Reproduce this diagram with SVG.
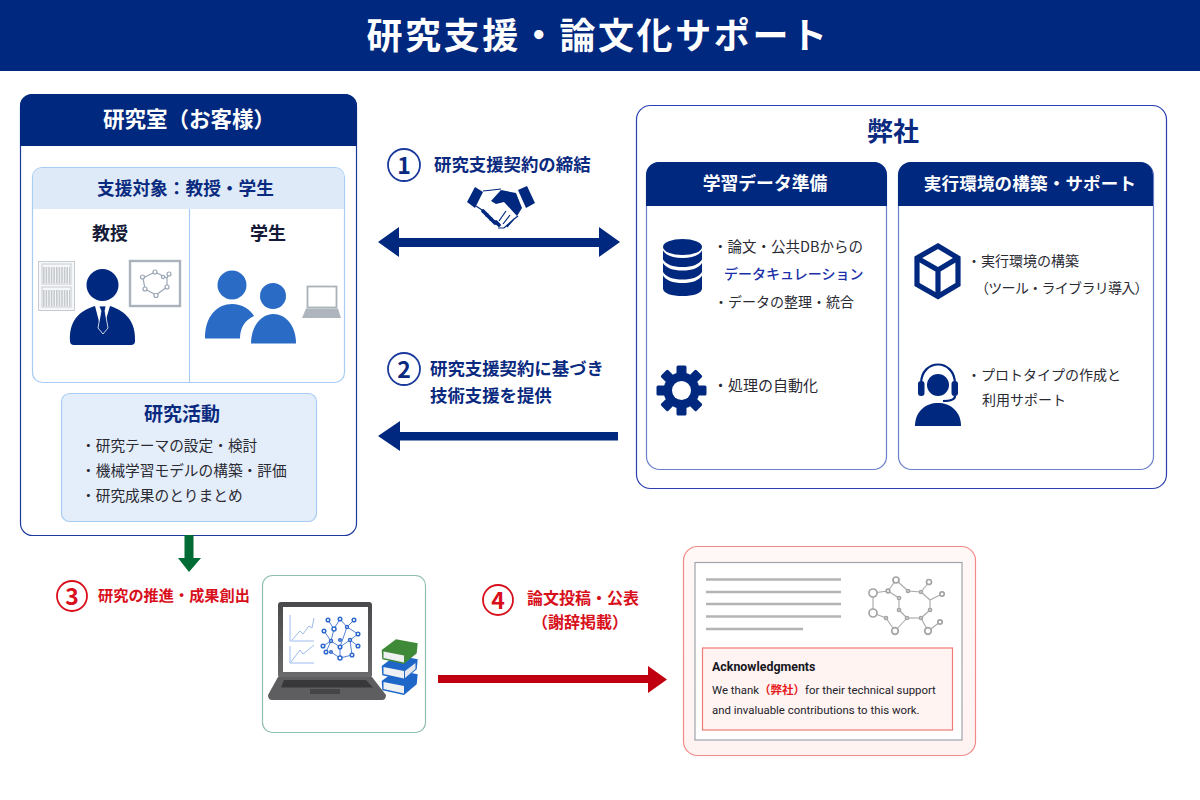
<svg xmlns="http://www.w3.org/2000/svg" width="1200" height="800" viewBox="0 0 1200 800">
<style>
text{font-family:"Noto Sans CJK JP","Noto Sans",sans-serif;}
.navy{fill:#00287e}.white{fill:#fff}
.b{font-weight:700}.m{text-anchor:middle}
.body{font-size:14px;fill:#2a2a33}
.act{font-size:14.700px;fill:#2a2a33}
.lb{font-size:17.400px;font-weight:700;fill:#0a2a80}
.red{font-weight:700;fill:#d8101c}
.num{font-size:23px;font-weight:700;text-anchor:middle}
.en{font-family:Roboto,"Noto Sans CJK JP",sans-serif;font-size:11.400px;fill:#22222a}
.mol line{stroke:#a8a8a8;stroke-width:1.100}
.mol circle{fill:#fff;stroke:#a4a4a4;stroke-width:1.700}
.net line{stroke:#3f74d0;stroke-width:.9}
.net circle{fill:#fff;stroke:#2f68cc;stroke-width:1.500}
.ring line{stroke:#9aa6b4;stroke-width:1.200}
.ring circle{fill:#fff;stroke:#9aa6b4;stroke-width:1.200}
</style>
<defs>
<linearGradient id="pink" x1="0" y1="0" x2="0" y2="1"><stop offset="0" stop-color="#fff8f7"/><stop offset="1" stop-color="#fff3f2"/></linearGradient>
<linearGradient id="frame" x1="0" y1="0" x2="0" y2="1"><stop offset="0" stop-color="#4a4a4c"/><stop offset="1" stop-color="#6a6a6c"/></linearGradient>
</defs>
<rect width="1200" height="800" fill="#fff"/>
<g id="title"><rect width="1200" height="71" class="navy"/><text x="598" y="49" class="white b m" font-size="36" letter-spacing="2.600">研究支援・論文化サポート</text></g>

<g id="lab">
<rect x="20.500" y="94.500" width="336" height="441" rx="12" fill="#fff" stroke="#1c3a9c" stroke-width="1.200"/>
<path d="M20 146V106a12 12 0 0 1 12-12H345a12 12 0 0 1 12 12V146Z" class="navy"/>
<text x="189" y="127" class="white b m" font-size="21.500">研究室（お客様）</text>
</g>

<g id="target">
<rect x="32.500" y="167.500" width="312" height="215" rx="10" fill="#fff" stroke="#a8cdf5" stroke-width="1.200"/>
<path d="M33 209V177a9 9 0 0 1 9-9H335a9 9 0 0 1 9 9V209Z" fill="#dfeaf8"/>
<line x1="189.500" y1="209" x2="189.500" y2="382" stroke="#a8cdf5" stroke-width="1.200"/>
<text x="185.500" y="195" class="m b" font-size="17.700" fill="#0a2a80">支援対象：教授・学生</text>
<text x="110" y="240" class="m b" font-size="18" fill="#141a38">教授</text>
<text x="268" y="240" class="m b" font-size="18" fill="#141a38">学生</text>
</g>

<g id="professor">
<g fill="#f6f7f8" stroke="#c8ccd0"><rect x="38.500" y="261.500" width="36" height="49"/><rect x="42" y="264" width="29" height="20"/><rect x="42" y="287" width="29" height="20"/></g>
<g stroke="#c6cacf" stroke-dasharray="1.600 1"><line x1="43" y1="275" x2="70" y2="275" stroke-width="16"/><line x1="43" y1="298" x2="70" y2="298" stroke-width="16"/></g>
<rect x="130" y="261" width="50" height="45" fill="#fff" stroke="#aab3bb" stroke-width="2.400"/>
<g class="ring"><line x1="143" y1="278" x2="155" y2="272"/><line x1="155" y1="272" x2="167" y2="278"/><line x1="167" y1="278" x2="167" y2="287"/><line x1="167" y1="287" x2="156" y2="295"/><line x1="156" y1="295" x2="145" y2="289"/><line x1="145" y1="289" x2="143" y2="278"/><line x1="167" y1="278" x2="169" y2="274"/>
<circle cx="142.500" cy="277" r="2"/><circle cx="155" cy="272" r="2"/><circle cx="163" cy="277" r="1.600"/><circle cx="169" cy="274" r="2"/><circle cx="167" cy="287" r="2"/><circle cx="156" cy="295.500" r="2"/><circle cx="145" cy="289" r="2"/></g>
<circle cx="102.500" cy="285" r="16" class="navy"/>
<path d="M70 341C69 322 78 311 95 306L102 333L110 306C126 311 136 322 135 341Q135 345 131 345H74Q70 345 70 341Z" class="navy"/>
<path d="M99 306h7l-1 5l3 17l-5 6l-5-6l3-17Z" class="navy" stroke="#fff" stroke-width=".8"/>
</g>

<g id="students">
<circle cx="232" cy="285" r="14.500" fill="#2a6bc6"/>
<path d="M205 338.500C205 315 218 304 232 304C242 304 250 309 254 316C245 320 240 328 240 338.500Z" fill="#2a6bc6"/>
<circle cx="273" cy="296" r="13" fill="#2a6bc6"/>
<path d="M251 343.500C251 325 262 314 273.500 314C285 314 296 325 296 343.500Z" fill="#2a6bc6"/>
<rect x="307.500" y="286.500" width="29" height="21" fill="#fff" stroke="#aab2ba" stroke-width="1.800"/>
<path d="M306 308.500H338L341 318H302Z" fill="#aeb5bc"/>
</g>

<g id="activity">
<rect x="61.500" y="393.500" width="255" height="128" rx="8" fill="#e4eefa" stroke="#a8cdf5" stroke-width="1.200"/>
<text x="182" y="421" class="m b" font-size="19" fill="#0a2a80">研究活動</text>
<text x="81" y="451" class="act">・研究テーマの設定・検討</text>
<text x="81" y="476" class="act">・機械学習モデルの構築・評価</text>
<text x="81" y="501" class="act">・研究成果のとりまとめ</text>
</g>

<g id="company">
<rect x="636.500" y="105.500" width="530" height="383" rx="14" fill="#fff" stroke="#2a3fb0" stroke-width="1.200"/>
<text x="893" y="141" class="m b" font-size="26" fill="#0a2a80">弊社</text>
</g>

<g id="data-prep">
<rect x="646.500" y="162.500" width="240" height="307" rx="13" fill="#fff" stroke="#6a80cc" stroke-width="1.200"/>
<path d="M646 206V175a13 13 0 0 1 13-13H874a13 13 0 0 1 13 13V206Z" class="navy"/>
<text x="765" y="190" class="white b m" font-size="17.800">学習データ準備</text>
<g class="navy"><ellipse cx="682.500" cy="247" rx="19.500" ry="8"/><path d="M663 250.500c3 5 10 7.500 19.500 7.500s16.500-2.500 19.500-7.500v9c-3 5-10 7.500-19.500 7.500s-16.500-2.500-19.500-7.500Z"/><path d="M663 263c3 5 10 7.500 19.500 7.500s16.500-2.500 19.500-7.500v9c-3 5-10 7.500-19.500 7.500s-16.500-2.500-19.500-7.500Z"/><path d="M663 275.500c3 5 10 7.500 19.500 7.500s16.500-2.500 19.500-7.500v13c0 5-9 7.500-19.500 7.500s-19.500-2.500-19.500-7.500Z"/></g>
<text x="713" y="252" class="body" style="font-size:14.500px">・論文・公共DBからの</text>
<text x="724" y="279" font-size="14" font-weight="500" fill="#1a2fa8">データキュレーション</text>
<text x="714" y="307" class="body">・データの整理・統合</text>
<g transform="translate(681.500 390.500)" class="navy"><circle r="18"/>
<rect x="-5" y="-25" width="10" height="12" rx="1.500"/><rect x="-5" y="-25" width="10" height="12" rx="1.500" transform="rotate(45)"/><rect x="-5" y="-25" width="10" height="12" rx="1.500" transform="rotate(90)"/><rect x="-5" y="-25" width="10" height="12" rx="1.500" transform="rotate(135)"/><rect x="-5" y="-25" width="10" height="12" rx="1.500" transform="rotate(180)"/><rect x="-5" y="-25" width="10" height="12" rx="1.500" transform="rotate(225)"/><rect x="-5" y="-25" width="10" height="12" rx="1.500" transform="rotate(270)"/><rect x="-5" y="-25" width="10" height="12" rx="1.500" transform="rotate(315)"/>
<circle r="9.500" fill="#fff"/></g>
<text x="713" y="391" class="body" style="font-size:15px">・処理の自動化</text>
</g>

<g id="runtime">
<rect x="898.500" y="162.500" width="255" height="307" rx="13" fill="#fff" stroke="#6a80cc" stroke-width="1.200"/>
<path d="M898 206V175a13 13 0 0 1 13-13H1140a13 13 0 0 1 13 13V206Z" class="navy"/>
<text x="1030" y="190" class="white b m" font-size="17.500" letter-spacing=".2">実行環境の構築・サポート</text>
<g fill="none" stroke="#00287e" stroke-width="5.200"><path d="M938 246L958 258V284.500L938 296.500L917 284.500V258Z"/><path d="M917 258L938 270L958 258M938 270V296.500"/></g>
<text x="967" y="266" class="body">・実行環境の構築</text>
<text x="975" y="293" class="body" letter-spacing="-.7">（ツール・ライブラリ導入）</text>
<g class="navy"><circle cx="938" cy="385" r="11"/><path d="M915 426C915 411 926 403 938 403C950 403 961 411 961 426Z"/><rect x="918" y="381" width="6.500" height="15" rx="3"/><rect x="951.500" y="381" width="6.500" height="15" rx="3"/></g>
<path d="M921 384C921 358 955 358 955 384M955 396C955 400 950 401 943 401" fill="none" stroke="#00287e" stroke-width="2.200"/>
<text x="967" y="380" class="body">・プロトタイプの作成と</text>
<text x="982" y="405" class="body">利用サポート</text>
</g>

<g id="connectors">
<path d="M378 242L399 227V238H599V227L620 242L599 257V247H399V257Z" class="navy"/>
<path d="M378 436L400 421V432H618V440.500H400V451Z" class="navy"/>
<path d="M184.500 535H193.500V558H201L189 572L178 558H184.500Z" fill="#006b35"/>
<path d="M438 675H648V666L667 679.500L648 693V683H438Z" fill="#c00010"/>
</g>

<g id="step1">
<circle cx="404" cy="165" r="16" fill="#fff" stroke="#1a3a9c" stroke-width="1.800"/>
<text x="404" y="173.500" class="num" fill="#0a2a80">1</text>
<text x="434" y="171" class="lb">研究支援契約の締結</text>
<g class="navy"><path d="M467 202L475 187L483 192L475 208Z"/><path d="M518 190L527 186L535 203L526 208Z"/>
<path d="M491 201L501 190L516 193L522 208L517 216L504 202L496 204Z"/>
<g stroke="#00287e" stroke-width="3.800" stroke-linecap="round"><line x1="483" y1="211" x2="487" y2="215"/><line x1="487" y1="215" x2="491" y2="219"/><line x1="491" y1="219" x2="495" y2="223"/><line x1="496" y1="222" x2="499" y2="225"/></g></g>
<path d="M476 206L482 210M498 228L504 228L514 219L518 216M503 224L510 215M507 227L514 219M499 221L506 211M483 191Q493 190 501 189" fill="none" stroke="#00287e" stroke-width="1.200"/>
</g>

<g id="step2">
<circle cx="404" cy="369" r="16" fill="#fff" stroke="#1a3a9c" stroke-width="1.800"/>
<text x="404" y="377.500" class="num" fill="#0a2a80">2</text>
<text x="430" y="375" class="lb">研究支援契約に基づき</text>
<text x="430" y="402" class="lb">技術支援を提供</text>
</g>

<g id="step3">
<circle cx="72" cy="596" r="15" fill="#fff" stroke="#d8101c" stroke-width="1.800"/>
<text x="72" y="604.500" class="num" fill="#d8101c">3</text>
<text x="98" y="601" class="red" font-size="15.200">研究の推進・成果創出</text>
</g>

<g id="step4">
<circle cx="498" cy="600" r="15" fill="#fff" stroke="#d8101c" stroke-width="1.800"/>
<text x="498" y="608.500" class="num" fill="#d8101c">4</text>
<text x="583" y="604" class="red m" font-size="16">論文投稿・公表</text>
<text x="580" y="628" class="red m" font-size="16">（謝辞掲載）</text>
</g>

<g id="research-output">
<rect x="262.500" y="575.500" width="163" height="157" rx="10" fill="#fff" stroke="#8fc0ac" stroke-width="1.200"/>
<rect x="278" y="602" width="94" height="76" rx="3" fill="url(#frame)"/>
<rect x="283" y="607" width="85" height="65" fill="#fff"/>
<path d="M278 677H372L386 695Q386 700 382 700H272Q268 700 268 695Z" fill="#5e5e60"/>
<path d="M284 680H366L373 687.500H281Z" fill="#38383a"/><rect x="310" y="689" width="30" height="5" fill="#454547"/>
<g fill="none" stroke="#9dbcec" stroke-width="1"><path d="M290 615V641H314"/><path d="M290 646V663H314"/><path d="M292 640L300 631L303 634L309 626L312 628L314 618"/><path d="M291 662L300 650L303 654L308 650L314 645"/></g>
<g class="net"><line x1="328" y1="620" x2="334" y2="629"/><line x1="340" y1="619" x2="334" y2="629"/><line x1="340" y1="619" x2="347" y2="627"/><line x1="354" y1="620" x2="347" y2="627"/><line x1="347" y1="627" x2="358" y2="634"/><line x1="324" y1="631" x2="331" y2="641"/><line x1="334" y1="629" x2="331" y2="641"/><line x1="331" y1="641" x2="340" y2="647"/><line x1="347" y1="627" x2="340" y2="647"/><line x1="340" y1="647" x2="350" y2="640"/><line x1="358" y1="634" x2="350" y2="640"/><line x1="358" y1="646" x2="350" y2="640"/><line x1="323" y1="646" x2="331" y2="641"/><line x1="340" y1="647" x2="340" y2="658"/><line x1="326" y1="652" x2="331" y2="641"/><line x1="352" y1="655" x2="350" y2="640"/><line x1="340" y1="658" x2="352" y2="655"/><line x1="331" y1="652" x2="340" y2="658"/>
<circle cx="328" cy="620" r="1.800"/><circle cx="340" cy="619" r="1.800"/><circle cx="354" cy="620" r="1.800"/><circle cx="334" cy="629" r="2"/><circle cx="347" cy="627" r="1.500"/><circle cx="358" cy="634" r="1.800"/><circle cx="324" cy="631" r="1.800"/><circle cx="331" cy="641" r="1.500"/><circle cx="340" cy="640" r="1.300"/><circle cx="350" cy="640" r="1.500"/><circle cx="323" cy="646" r="1.800"/><circle cx="340" cy="647" r="1.800"/><circle cx="358" cy="646" r="1.800"/><circle cx="326" cy="652" r="1.800"/><circle cx="331" cy="652" r="1.300"/><circle cx="340" cy="658" r="2"/><circle cx="352" cy="655" r="1.800"/></g>
<g transform="translate(0 31)"><path d="M381.700 650L396 639.300L417.700 643.300L416.700 653.300L404 664L382.300 659.300Z" fill="#1e66c8"/><path d="M383.500 651L404 655V662.500L383.500 658Z" fill="#eef0f2"/></g>
<g transform="translate(0 16)"><path d="M381.700 650L396 639.300L417.700 643.300L416.700 653.300L404 664L382.300 659.300Z" fill="#1e66c8"/><path d="M383.500 651L404 655V662.500L383.500 658Z" fill="#eef0f2"/><path d="M405 655L415.500 647V653L405 662Z" fill="#e4e8ec"/></g>
<path d="M381.700 650L396 639.300L417.700 643.300L416.700 653.300L404 664L382.300 659.300Z" fill="#3f8a38"/><path d="M383.500 651.500L404 655.500V662.500L383.500 658Z" fill="#eef0f2"/>
</g>

<g id="paper">
<rect x="683.500" y="546.500" width="292" height="209" rx="14" fill="url(#pink)" stroke="#f08a88" stroke-width="1.200"/>
<rect x="695" y="562.500" width="267" height="177.500" fill="#fff" stroke="#9ea4aa" stroke-width="1.200"/>
<g stroke="#b4b4b4" stroke-width="2.400"><line x1="706" y1="579.500" x2="841" y2="579.500"/><line x1="706" y1="592" x2="841" y2="592"/><line x1="706" y1="604" x2="841" y2="604"/><line x1="706" y1="616.500" x2="841" y2="616.500"/><line x1="706" y1="629" x2="803" y2="629"/></g>
<g class="mol"><line x1="873" y1="593" x2="888" y2="591"/><line x1="888" y1="591" x2="896" y2="580"/><line x1="896" y1="580" x2="908" y2="591"/><line x1="908" y1="591" x2="921" y2="592"/><line x1="921" y1="592" x2="929" y2="582"/><line x1="921" y1="592" x2="930" y2="600"/><line x1="930" y1="600" x2="942" y2="594"/><line x1="930" y1="600" x2="930" y2="610"/><line x1="930" y1="610" x2="921" y2="618"/><line x1="921" y1="618" x2="907" y2="618"/><line x1="907" y1="618" x2="899" y2="610"/><line x1="899" y1="610" x2="899" y2="598"/><line x1="899" y1="598" x2="888" y2="591"/><line x1="873" y1="593" x2="873" y2="613"/><line x1="873" y1="613" x2="886" y2="618"/><line x1="886" y1="618" x2="895" y2="631"/><line x1="895" y1="631" x2="907" y2="618"/><line x1="921" y1="618" x2="928" y2="631"/><line x1="928" y1="631" x2="940" y2="622"/>
<circle cx="873" cy="593" r="4"/><circle cx="873" cy="613" r="4"/><circle cx="896" cy="580" r="3"/><circle cx="929" cy="582" r="2.500"/><circle cx="942" cy="594" r="2.200"/><circle cx="940" cy="622" r="2.200"/><circle cx="895" cy="631" r="3.300"/><circle cx="928" cy="631" r="3.300"/><circle cx="888" cy="591" r="1.800"/><circle cx="908" cy="591" r="1.500"/><circle cx="921" cy="592" r="1.500"/><circle cx="899" cy="598" r="1.500"/><circle cx="899" cy="610" r="1.500"/><circle cx="907" cy="618" r="1.500"/><circle cx="921" cy="618" r="1.500"/><circle cx="886" cy="618" r="1.500"/><circle cx="930" cy="610" r="1.500"/></g>
<rect x="702.500" y="648" width="250" height="82" fill="#fff4f2" stroke="#f07a78" stroke-width="1.200"/>
<text x="712" y="671" class="en" style="font-size:12.400px;font-weight:700;fill:#161620">Acknowledgments</text>
<text x="712" y="694" class="en">We thank<tspan font-family="Noto Sans CJK JP" font-weight="700" fill="#e81820" style="font-size:11.500px">（弊社）</tspan>for their technical support</text>
<text x="712" y="714" class="en">and invaluable contributions to this work.</text>
</g>
</svg>
